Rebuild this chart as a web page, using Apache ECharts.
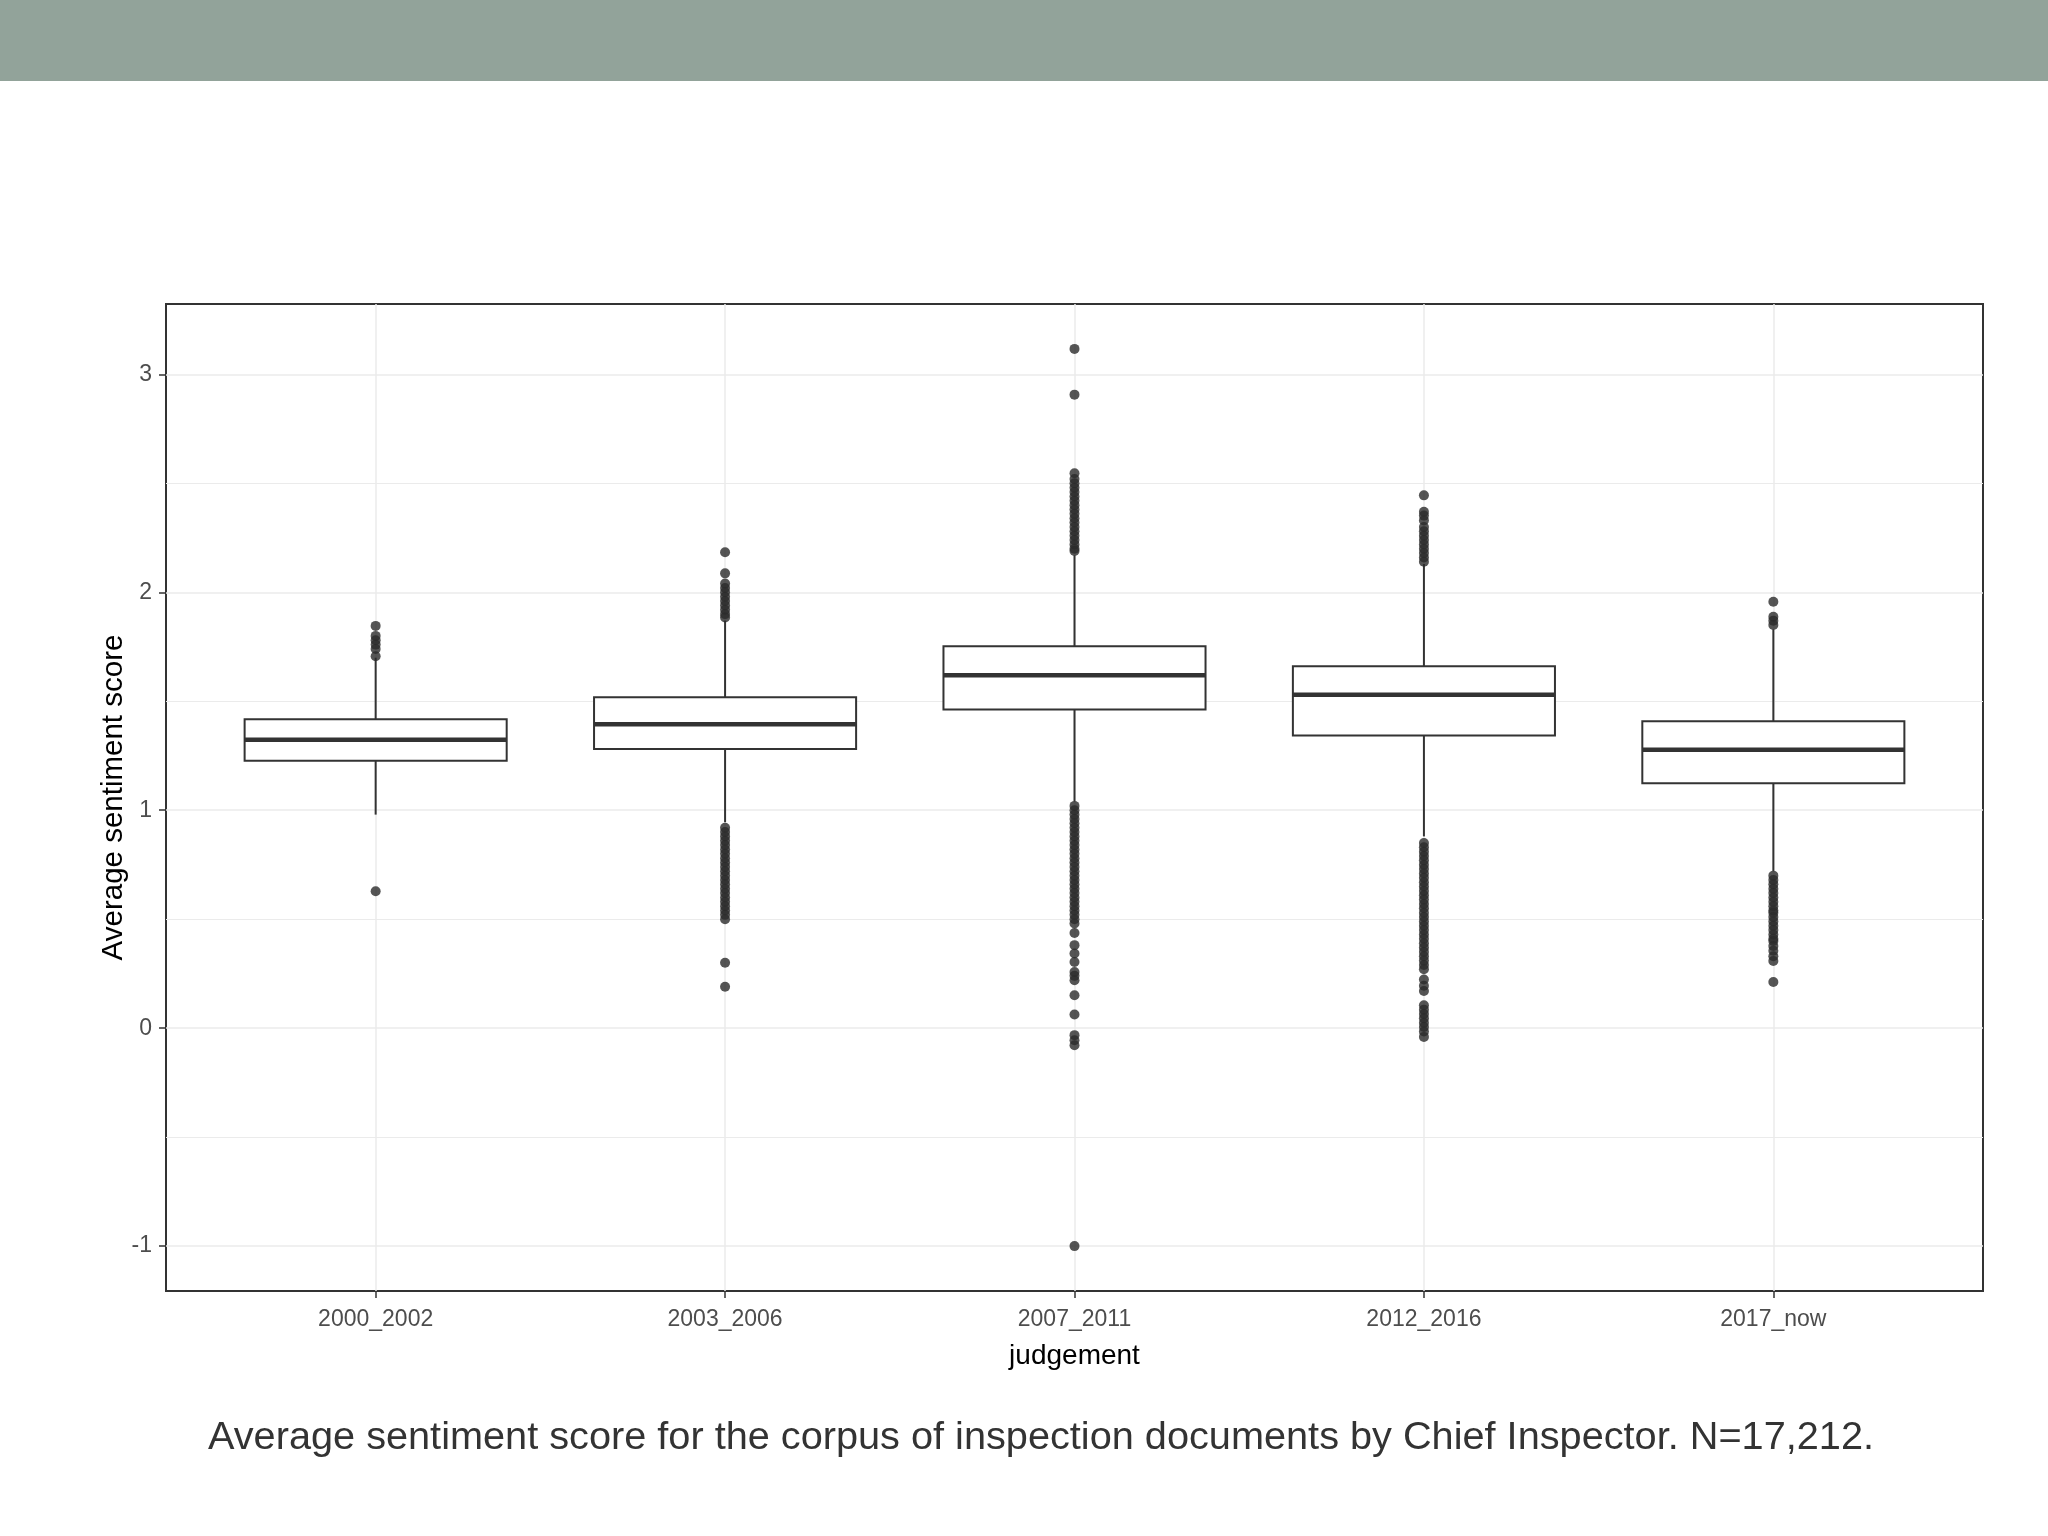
<!DOCTYPE html>
<html lang="en">
<head>
    <meta charset="UTF-8">
    <title>sentimentByPeriod</title>
    <script src="https://cdn.jsdelivr.net/npm/echarts@6/dist/echarts.min.js"></script>
    <style>
        html, body { margin: 0; padding: 0; background: #fff; }
    </style>
</head>
<body>
<div id="main" style="width: 2048px;height:1536px;"></div>
<script type="text/javascript">
    // categories on the x axis
    var categories = ['2000_2002', '2003_2006', '2007_2011', '2012_2016', '2017_now'];
    var yTicks = [-1, 0, 1, 2, 3];
    var yMinorTicks = [-0.5, 0.5, 1.5, 2.5];

    // box statistics
    var whiskerLow  = [0.98, 0.945, 1.04, 0.88, 0.72];
    var q1          = [1.227, 1.281, 1.462, 1.343, 1.124];
    var median      = [1.323, 1.395, 1.620, 1.530, 1.278];
    var q3          = [1.418, 1.519, 1.752, 1.661, 1.408];
    var whiskerHigh = [1.70, 1.87, 2.17, 2.13, 1.83];

    // outlying points, per category
    var out2000 = [1.846, 1.80, 1.78, 1.76, 1.74, 1.707, 0.628];
    var out2003 = [2.184, 2.087, 2.04, 2.02, 2.00, 1.98, 1.96, 1.94, 1.92, 1.90, 1.885,
        0.92, 0.90, 0.88, 0.86, 0.84, 0.82, 0.80, 0.78, 0.76, 0.74, 0.72, 0.70, 0.68,
        0.66, 0.64, 0.62, 0.60, 0.58, 0.56, 0.54, 0.52, 0.50, 0.30, 0.19];
    var out2007 = [3.117, 2.907, 2.546, 2.52, 2.50, 2.48, 2.46, 2.44, 2.42, 2.40, 2.38,
        2.36, 2.34, 2.32, 2.30, 2.28, 2.26, 2.24, 2.22, 2.20, 2.19,
        1.02, 1.00, 0.98, 0.96, 0.94, 0.92, 0.90, 0.88, 0.86, 0.84, 0.82, 0.80, 0.78,
        0.76, 0.74, 0.72, 0.70, 0.68, 0.66, 0.64, 0.62, 0.60, 0.58, 0.56, 0.54, 0.52,
        0.50, 0.48, 0.437, 0.381, 0.343, 0.304, 0.258, 0.24, 0.22, 0.151, 0.063,
        -0.032, -0.055, -0.078, -1.0];
    var out2012 = [2.445, 2.37, 2.352, 2.33, 2.30, 2.28, 2.26, 2.24, 2.22, 2.20, 2.18,
        2.16, 2.14,
        0.85, 0.83, 0.81, 0.79, 0.77, 0.75, 0.73, 0.71, 0.69, 0.67, 0.65, 0.63, 0.61,
        0.59, 0.57, 0.55, 0.53, 0.51, 0.49, 0.47, 0.45, 0.43, 0.41, 0.39, 0.37, 0.35,
        0.33, 0.31, 0.29, 0.27, 0.223, 0.195, 0.171, 0.105, 0.085, 0.065, 0.045, 0.025,
        0.005, -0.015, -0.04];
    var out2017 = [1.957, 1.888, 1.87, 1.85,
        0.70, 0.68, 0.66, 0.64, 0.62, 0.60, 0.58, 0.56, 0.54, 0.53, 0.51, 0.49, 0.47,
        0.45, 0.43, 0.41, 0.40, 0.377, 0.355, 0.33, 0.308, 0.212];
    var outlierSets = [out2000, out2003, out2007, out2012, out2017];

    var boxRows = categories.map(function (c, i) {
        return [i, whiskerLow[i], q1[i], median[i], q3[i], whiskerHigh[i]];
    });
    var outlierPoints = [];
    outlierSets.forEach(function (set, i) {
        set.forEach(function (v) { outlierPoints.push([i, v]); });
    });

    var ink = '#333333';
    var gridGrey = '#ebebeb';
    var font = 'Liberation Sans';

    // ggplot style box: no whisker caps, thick median
    function renderBox(params, api) {
        var x = api.value(0);
        var lo = api.coord([x, api.value(1)]);
        var b1 = api.coord([x, api.value(2)]);
        var md = api.coord([x, api.value(3)]);
        var b3 = api.coord([x, api.value(4)]);
        var hi = api.coord([x, api.value(5)]);
        var half = api.size([0.75, 0])[0] / 2;
        var ls = {stroke: ink, lineWidth: 2};
        return {
            type: 'group',
            children: [
                {type: 'line', shape: {x1: lo[0], y1: lo[1], x2: b1[0], y2: b1[1]}, style: ls},
                {type: 'line', shape: {x1: hi[0], y1: hi[1], x2: b3[0], y2: b3[1]}, style: ls},
                {type: 'rect', shape: {x: b3[0] - half, y: b3[1], width: half * 2, height: b1[1] - b3[1]},
                    style: {fill: '#ffffff', stroke: ink, lineWidth: 2}},
                {type: 'line', shape: {x1: md[0] - half, y1: md[1], x2: md[0] + half, y2: md[1]},
                    style: {stroke: ink, lineWidth: 4.5}}
            ]
        };
    }

    var myEChart = echarts.init(document.getElementById('main'));
    myEChart.setOption({
        animation: false,
        backgroundColor: '#ffffff',
        graphic: [
            {type: 'rect', left: 0, top: 0, shape: {width: 2048, height: 81}, style: {fill: '#92a39a'}, z: 0},
            {type: 'text', left: 208, top: 1418, style: {
                text: 'Average sentiment score for the corpus of inspection documents by Chief Inspector. N=17,212.',
                fontFamily: font, fontSize: 39.7, fill: '#333333'
            }}
        ],
        grid: {
            left: 166, top: 304, width: 1817, height: 987,
            show: true, borderColor: ink, borderWidth: 2, backgroundColor: '#ffffff'
        },
        xAxis: {
            type: 'value', min: -0.6, max: 4.6,
            name: 'judgement', nameLocation: 'middle', nameGap: 51, nameMoveOverlap: false,
            nameTextStyle: {fontFamily: font, fontSize: 28, color: '#000000'},
            axisLine: {show: false, onZero: false},
            axisTick: {show: true, length: 7, customValues: [0, 1, 2, 3, 4], lineStyle: {color: ink, width: 1.5}},
            axisLabel: {
                customValues: [0, 1, 2, 3, 4], margin: 17,
                fontFamily: font, fontSize: 23, color: '#4d4d4d',
                formatter: function (v) { return categories[Math.round(v)]; }
            },
            splitLine: {show: true, lineStyle: {color: gridGrey, width: 1.5}}
        },
        yAxis: [{
            type: 'value', min: -1.206, max: 3.323,
            name: 'Average sentiment score', nameLocation: 'middle', nameGap: 37, nameMoveOverlap: false,
            nameTextStyle: {fontFamily: font, fontSize: 29.5, color: '#000000'},
            axisLine: {show: false, onZero: false},
            axisTick: {show: true, length: 7, customValues: yTicks, lineStyle: {color: ink, width: 1.5}},
            axisLabel: {customValues: yTicks, margin: 14, fontFamily: font, fontSize: 23, color: '#4d4d4d'},
            splitLine: {show: true, lineStyle: {color: gridGrey, width: 1.5}}
        }, {
            type: 'value', min: -1.206, max: 3.323, position: 'left',
            axisLine: {show: false, onZero: false},
            axisTick: {show: false, customValues: yMinorTicks},
            axisLabel: {show: false, customValues: yMinorTicks},
            splitLine: {show: true, lineStyle: {color: gridGrey, width: 1.2}}
        }],
        series: [{
            type: 'custom',
            name: 'box',
            renderItem: renderBox,
            encode: {x: 0, y: [1, 2, 3, 4, 5]},
            data: boxRows,
            z: 2
        }, {
            type: 'scatter',
            name: 'outliers',
            symbol: 'circle',
            symbolSize: 10,
            itemStyle: {color: '#2b2b2b'},
            data: outlierPoints,
            z: 3
        }]
    });
</script>
</body>
</html>
